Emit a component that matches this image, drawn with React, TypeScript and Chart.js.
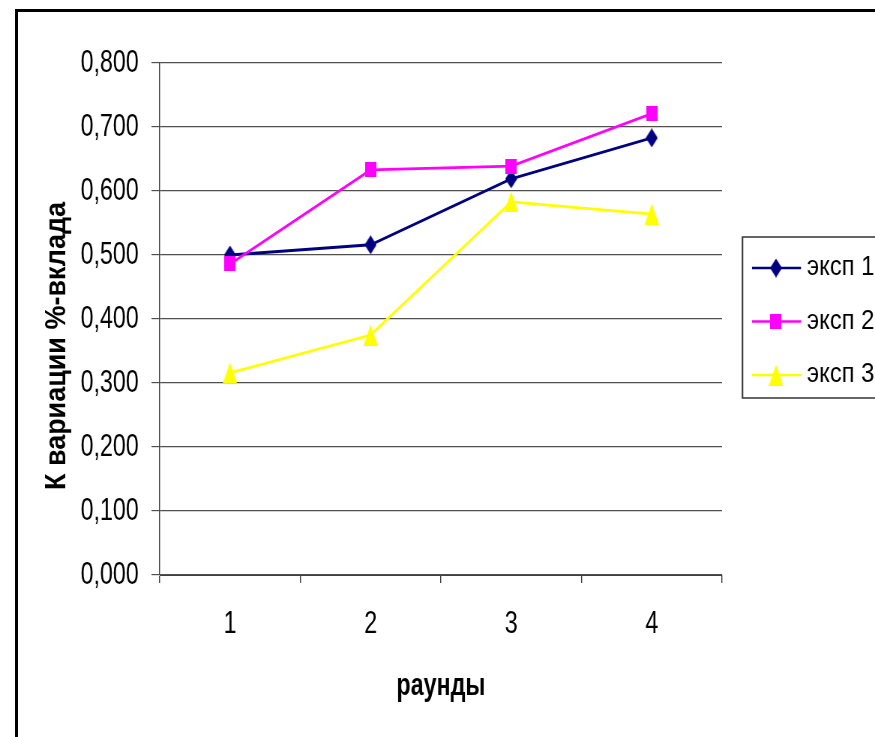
import React, { useEffect, useRef } from 'react';
import { Chart, registerables } from 'chart.js';

Chart.register(...registerables);

const categories = ['1', '2', '3', '4'];
const seriesNames = ['эксп 1', 'эксп 2', 'эксп 3'];
const exp1 = [0.5, 0.516, 0.619, 0.683];
const exp2 = [0.486, 0.633, 0.639, 0.721];
const exp3 = [0.316, 0.375, 0.583, 0.564];
const yTickLabels = ['0,000', '0,100', '0,200', '0,300', '0,400', '0,500', '0,600', '0,700', '0,800'];
const xTitle = 'раунды';
const yTitle = 'К вариации %-вклада';
const seriesColors = ['#000080', '#FF00FF', '#FFFF00'];

const FONT = '"Liberation Sans", Arial, sans-serif';
const PAGE_W = 875;
const PAGE_H = 737;
const INT_W = 1167; // internal canvas width, squeezed horizontally to PAGE_W
const SX = PAGE_W / INT_W;

function makeMarker(kind: string, color: string): HTMLCanvasElement {
  const c = document.createElement('canvas');
  let w = 16, h = 19;
  if (kind === 'square') { w = 15; h = 15; }
  if (kind === 'triangle') { w = 19; h = 21; }
  c.width = w; c.height = h;
  const ctx = c.getContext('2d')!;
  ctx.fillStyle = color;
  ctx.beginPath();
  if (kind === 'diamond') {
    ctx.moveTo(w / 2, 0); ctx.lineTo(w, h / 2); ctx.lineTo(w / 2, h); ctx.lineTo(0, h / 2);
  } else if (kind === 'square') {
    ctx.rect(0, 0, w, h);
  } else {
    ctx.moveTo(w / 2, 0); ctx.lineTo(w, h); ctx.lineTo(0, h);
  }
  ctx.closePath();
  ctx.fill();
  return c;
}

export default function App() {
  const ref = useRef<HTMLCanvasElement>(null);
  useEffect(() => {
    const canvas = ref.current!;
    const markers = [
      makeMarker('diamond', seriesColors[0]),
      makeMarker('square', seriesColors[1]),
      makeMarker('triangle', seriesColors[2]),
    ];
    const seriesData = [exp1, exp2, exp3];

    const extras = {
      id: 'extras',
      afterDraw(chart: any) {
        const ctx = chart.ctx as CanvasRenderingContext2D;
        // work in page pixel units
        ctx.save();
        ctx.scale(1 / SX, 1);
        // Y axis title
        ctx.save();
        ctx.translate(57, 346);
        ctx.rotate(-Math.PI / 2);
        ctx.scale(0.93, 1);
        ctx.font = `bold 29px ${FONT}`;
        ctx.fillStyle = '#000';
        ctx.textAlign = 'center';
        ctx.textBaseline = 'middle';
        ctx.fillText(yTitle, 0, 0);
        ctx.restore();
        // Legend
        ctx.strokeStyle = '#333';
        ctx.lineWidth = 1.5;
        ctx.strokeRect(742.5, 237, 200, 161);
        chart.data.datasets.forEach((ds: any, i: number) => {
          const y = 268 + i * 53.5;
          ctx.strokeStyle = ds.borderColor;
          ctx.lineWidth = 2.5;
          ctx.beginPath();
          ctx.moveTo(752, y);
          ctx.lineTo(801, y);
          ctx.stroke();
          const m = markers[i];
          const mw = m.width * SX;
          ctx.drawImage(m, 776 - mw / 2, y - m.height / 2, mw, m.height);
          ctx.save();
          ctx.translate(807, y);
          ctx.scale(0.88, 1);
          ctx.font = `27px ${FONT}`;
          ctx.fillStyle = '#000';
          ctx.textAlign = 'left';
          ctx.textBaseline = 'middle';
          ctx.fillText(ds.label, 0, 0);
          ctx.restore();
        });
        ctx.restore();
      },
    };

    const chart = new Chart(canvas, {
      type: 'line',
      data: {
        labels: categories,
        datasets: seriesData.map((d, i) => ({
          label: seriesNames[i],
          data: d,
          borderColor: seriesColors[i],
          backgroundColor: seriesColors[i],
          borderWidth: 2.8,
          pointStyle: markers[i] as any,
          pointRadius: 6,
          tension: 0,
          fill: false,
          order: 3 - i,
        })),
      },
      options: {
        responsive: false,
        animation: false,
        devicePixelRatio: 1,
        layout: { padding: { top: 63, right: 204, bottom: 0, left: 0 } },
        plugins: {
          legend: { display: false },
          tooltip: { enabled: false },
        },
        scales: {
          x: {
            type: 'category',
            offset: true,
            grid: {
              display: true,
              drawOnChartArea: false,
              drawTicks: true,
              tickLength: 8,
              offset: true,
              color: '#404040',
              lineWidth: 1.4,
            },
            border: { display: true, color: '#404040', width: 1 },
            ticks: {
              font: { family: FONT, size: 31 },
              color: '#000',
              padding: 23,
              maxRotation: 0,
            },
            title: {
              display: true,
              text: xTitle,
              color: '#000',
              font: { family: FONT, size: 31, weight: 'bold' },
              padding: { top: 0, bottom: 32 },
            },
            afterFit: (s: any) => { s.height = 162; },
          },
          y: {
            min: 0,
            max: 0.8,
            grid: { color: '#505050', tickLength: 11, drawTicks: true, lineWidth: 1.2 },
            border: { display: true, color: '#404040', width: 1.4 },
            ticks: {
              stepSize: 0.1,
              color: '#000',
              font: { family: FONT, size: 31 },
              padding: 17,
              callback: (_v: any, i: number) => yTickLabels[i],
            },
            afterFit: (s: any) => { s.width = 213; },
          },
        },
      },
      plugins: [extras],
    } as any);
    return () => chart.destroy();
  }, []);

  return (
    <div style={{ position: 'absolute', left: 0, top: 0, width: PAGE_W, height: PAGE_H, overflow: 'hidden', background: '#fff' }}>
      <canvas
        ref={ref}
        width={INT_W}
        height={PAGE_H}
        style={{ display: 'block', width: `${PAGE_W}px`, height: `${PAGE_H}px` }}
      />
      <div
        style={{
          position: 'absolute',
          left: 15,
          top: 9,
          width: 900,
          height: 800,
          border: '3px solid #000',
          boxSizing: 'border-box',
          pointerEvents: 'none',
        }}
      />
    </div>
  );
}
